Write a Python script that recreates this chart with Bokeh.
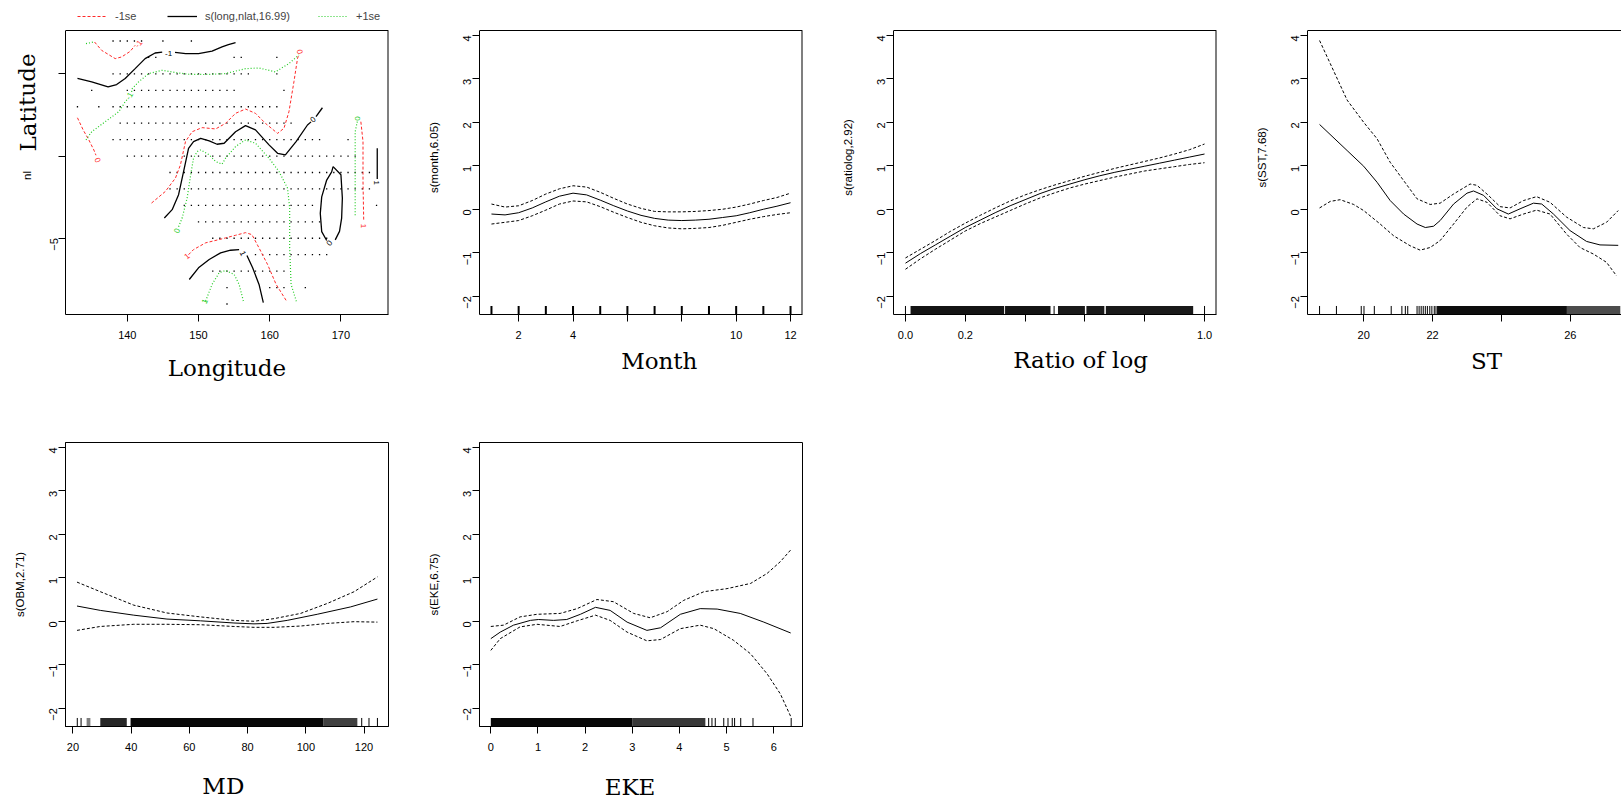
import math
from bokeh.plotting import figure
from bokeh.layouts import column, row
from bokeh.models import (FixedTicker, Range1d, Legend, LegendItem)
from bokeh.core.properties import value
from bokeh.embed import file_html
from bokeh.resources import INLINE

SANS = "Liberation Sans"
SERIF = "DejaVu Serif"
RED = "#FF2A2A"
GREEN = "#22CC22"
NBSP = "\u00a0"

# ---------------- data: panel 1 (contours of s(long,nlat,16.99)) ----------------
station_rows = [
    (7, [(138, 142), (145, 145), (149, 149)]),
    (6, [(143, 144), (155, 156), (161, 161)]),
    (5, [(138, 157), (161, 161)]),
    (4, [(135, 135), (140, 155), (162, 162)]),
    (3, [(133, 133), (136, 136), (138, 161)]),
    (2, [(139, 163)]),
    (1, [(138, 167), (171, 171)]),
    (0, [(140, 172)]),
    (-1, [(146, 174)]),
    (-2, [(146, 174)]),
    (-3, [(148, 166), (175, 175)]),
    (-4, [(150, 167)]),
    (-5, [(152, 168)]),
    (-6, [(158, 168)]),
    (-7, [(152, 162)]),
    (-8, [(154, 154), (160, 162), (165, 165)]),
    (-9, [(154, 154)]),
]

fit_lon = [
    [133.0, 135.0, 137.3, 138.5, 139.7, 141.1, 142.5, 143.9, 144.9],
    [146.7, 148.2, 150.0, 151.9, 153.3, 154.2, 155.2],
    [145.2, 146.3, 147.2, 147.9, 148.6, 149.3, 150.3, 151.5, 152.6, 153.6, 154.5, 155.2, 156.6, 158.0, 159.9, 161.1, 162.2, 163.7, 165.3, 165.8],
    [166.5, 167.4],
    [168.9, 170.0, 170.2, 170.1, 169.8, 169.2],
    [168.0, 167.3, 167.1, 167.3, 168.0, 168.7, 168.9],
    [175.1, 175.1],
    [148.7, 150.0, 151.5, 153.1, 154.5, 155.7],
    [156.8, 157.6, 158.5, 159.1],
]
fit_lat = [
    [4.72, 4.52, 4.21, 4.35, 4.72, 5.32, 5.93, 6.27, 6.33],
    [6.31, 6.23, 6.23, 6.39, 6.64, 6.78, 6.90],
    [-3.77, -3.26, -2.35, -0.94, 0.47, 0.88, 1.08, 0.92, 0.72, 0.78, 1.18, 1.48, 1.85, 1.59, 0.68, 0.17, 0.07, 0.88, 1.89, 2.08],
    [2.40, 2.94],
    [-0.64, -1.14, -2.56, -3.77, -4.58, -5.10],
    [-5.14, -4.60, -3.49, -2.48, -1.46, -0.96, -0.64],
    [0.47, -1.40],
    [-7.51, -6.80, -6.29, -5.89, -5.73, -5.69],
    [-6.05, -6.80, -7.81, -8.92],
]
lo_lon = [
    [135.4, 136.4, 138.3, 139.2, 140.4, 141.1],
    [143.4, 145.35, 146.76, 147.46, 148.17, 149.1, 150.5, 152.4, 153.8, 155.2, 156.6, 158.0, 159.4, 161.1, 162.0, 162.7, 163.4, 163.9, 164.1],
    [172.8, 173.1, 173.1, 173.2],
    [133.0, 133.8, 134.6, 135.3, 135.6],
    [148.6, 149.3, 151.0, 152.9, 153.8, 155.2, 156.6, 157.5, 158.5, 159.7, 160.9, 162.3],
]
lo_lat = [
    [6.94, 6.43, 5.93, 6.03, 6.37, 6.74],
    [-2.86, -2.15, -1.34, -0.54, 0.88, 1.48, 1.73, 1.65, 1.99, 2.60, 2.86, 2.60, 1.99, 1.38, 1.69, 2.70, 4.52, 5.93, 6.20],
    [2.09, 0.88, -1.54, -3.95],
    [2.33, 1.59, 0.98, 0.37, 0.05],
    [-6.00, -5.69, -5.28, -5.08, -4.98, -4.82, -4.66, -4.78, -5.59, -6.60, -7.81, -8.78],
]
hi_lon = [
    [134.2, 135.3],
    [134.2, 135.0, 136.9, 138.8, 139.7, 140.0],
    [140.6, 140.7, 141.6, 143.0, 144.9, 146.8, 148.6, 151.0, 153.8, 156.6, 158.5, 160.8, 162.7, 164.1],
    [147.2, 147.7, 148.4, 148.9, 149.3, 149.8, 150.3, 151.5, 152.4, 153.3, 153.8, 155.2, 156.6, 158.0, 159.9, 161.3, 162.5, 162.8, 162.8, 163.0, 163.8],
    [172.3, 172.0, 172.0, 172.0],
    [151.0, 151.9, 152.9, 153.8, 155.0, 155.7, 156.3],
]
hi_lat = [
    [6.84, 6.94],
    [0.98, 1.48, 2.09, 2.70, 3.30, 3.45],
    [3.90, 4.11, 4.52, 5.02, 5.22, 5.08, 4.98, 4.96, 5.02, 5.32, 5.36, 5.12, 5.63, 6.15],
    [-4.30, -3.77, -2.56, -1.14, -0.13, 0.27, 0.37, 0.07, -0.33, -0.49, -0.13, 0.58, 0.98, 0.78, -0.13, -0.94, -1.95, -3.16, -5.59, -7.81, -8.92],
    [2.10, 1.48, -0.54, -3.67],
    [-8.82, -7.81, -7.10, -6.96, -7.20, -7.81, -8.82],
]
clab_text = ["-1", "0", "0", "1", "1", "-1", "0", "0", "1", "1", "0", "0", "-1", "1"]
clab_lon = [145.8, 166.1, 168.4, 175.0, 156.2, 141.6, 164.2, 135.8, 173.2, 148.4, 147.0, 172.3, 140.3, 150.9]
clab_lat = [6.25, 2.22, -5.30, -1.62, -5.92, 6.82, 6.35, -0.25, -4.25, -6.10, -4.55, 2.28, 3.65, -8.85]
clab_angle = [0, 40, 50, -90, -65, 50, -80, -65, -90, 40, 70, 90, 60, 65]
clab_col = ["black", "black", "black", "black", "black", RED, RED, RED, RED, RED, GREEN, GREEN, GREEN, GREEN]

# ---------------- data: Month ----------------
month_x = [1, 1.5, 2, 2.5, 3, 3.5, 4, 4.5, 5, 5.5, 6, 6.5, 7, 7.5, 8, 8.5, 9, 9.5, 10, 10.5, 11, 11.5, 12]
month_fit = [-0.11, -0.13, -0.08, 0.03, 0.17, 0.30, 0.37, 0.33, 0.21, 0.08, -0.04, -0.14, -0.21, -0.25, -0.26, -0.25, -0.23, -0.19, -0.15, -0.08, 0.0, 0.07, 0.15]
month_hi = [0.12, 0.05, 0.08, 0.20, 0.35, 0.47, 0.54, 0.51, 0.39, 0.25, 0.12, 0.02, -0.05, -0.06, -0.06, -0.05, -0.03, 0.0, 0.05, 0.12, 0.20, 0.27, 0.37]
month_lo = [-0.34, -0.30, -0.26, -0.15, -0.02, 0.12, 0.19, 0.17, 0.06, -0.07, -0.19, -0.30, -0.38, -0.43, -0.45, -0.44, -0.42, -0.37, -0.30, -0.23, -0.17, -0.12, -0.08]
month_rug = [1, 2, 3, 4, 5, 6, 7, 8, 9, 10, 11, 12]

# ---------------- data: Ratio of log ----------------
ratio_x = [0.0, 0.05, 0.1, 0.15, 0.2, 0.25, 0.3, 0.35, 0.4, 0.45, 0.5, 0.55, 0.6, 0.65, 0.7, 0.75, 0.8, 0.85, 0.9, 0.95, 1.0]
ratio_fit = [-1.24, -1.02, -0.82, -0.62, -0.42, -0.25, -0.08, 0.08, 0.22, 0.36, 0.48, 0.58, 0.68, 0.77, 0.85, 0.92, 0.99, 1.06, 1.13, 1.20, 1.27]
ratio_hi = [-1.12, -0.92, -0.72, -0.51, -0.32, -0.14, 0.03, 0.19, 0.33, 0.45, 0.56, 0.66, 0.76, 0.85, 0.94, 1.02, 1.10, 1.18, 1.27, 1.37, 1.50]
ratio_lo = [-1.38, -1.14, -0.92, -0.71, -0.50, -0.33, -0.18, -0.03, 0.12, 0.26, 0.38, 0.49, 0.58, 0.66, 0.74, 0.81, 0.88, 0.93, 0.98, 1.03, 1.07]
ratio_rug = [0.0, 0.497, 1.0]
ratio_band_lo = [0.017, 0.333, 0.51, 0.605, 0.67]
ratio_band_hi = [0.330, 0.485, 0.60, 0.665, 0.962]
ratio_band_alpha = [0.92, 0.92, 0.9, 0.9, 0.9]

# ---------------- data: SST ----------------
sst_fit_x = [18.72, 19.52, 20.0, 20.39, 20.77, 21.16, 21.55, 21.79, 22.03, 22.22, 22.61, 23.0, 23.19, 23.48, 23.87, 24.2, 24.54, 24.93, 25.17, 25.51, 25.99, 26.47, 26.86, 27.39]
sst_fit = [1.95, 1.35, 0.99, 0.62, 0.20, -0.11, -0.34, -0.42, -0.39, -0.26, 0.12, 0.37, 0.42, 0.32, 0.01, -0.11, 0.01, 0.14, 0.12, -0.11, -0.49, -0.74, -0.82, -0.83]
sst_hi_x = [18.72, 19.03, 19.52, 20.0, 20.39, 20.77, 21.16, 21.55, 21.93, 22.22, 22.61, 23.09, 23.29, 23.58, 23.96, 24.25, 24.64, 25.02, 25.41, 25.89, 26.38, 26.67, 27.05, 27.39]
sst_hi = [3.88, 3.35, 2.51, 2.00, 1.62, 1.08, 0.66, 0.24, 0.11, 0.14, 0.35, 0.58, 0.55, 0.35, 0.06, 0.03, 0.20, 0.29, 0.16, -0.18, -0.42, -0.45, -0.30, -0.03]
sst_lo_x = [18.72, 19.03, 19.32, 19.71, 20.0, 20.48, 20.87, 21.35, 21.64, 21.93, 22.22, 22.61, 23.0, 23.29, 23.58, 23.96, 24.25, 24.64, 25.02, 25.41, 25.89, 26.28, 26.67, 27.05, 27.34]
sst_lo = [0.03, 0.18, 0.22, 0.11, -0.03, -0.34, -0.61, -0.84, -0.94, -0.88, -0.72, -0.34, 0.05, 0.24, 0.16, -0.15, -0.22, -0.11, -0.02, -0.11, -0.57, -0.88, -1.03, -1.22, -1.53]
sst_rug = [18.72, 19.21, 19.93, 20.01, 20.31, 20.80, 21.11, 21.21, 21.28, 21.55, 21.61, 21.67, 21.73, 21.79, 21.85, 21.92, 21.98, 22.05, 22.10]
sst_band_lo = [22.13, 25.90]
sst_band_hi = [25.90, 27.45]
sst_band_alpha = [0.95, 0.7]

# ---------------- data: MD (OBM) ----------------
md_x = [21.4, 29.4, 40.9, 52.3, 63.8, 75.3, 82.2, 86.7, 93.6, 103.9, 115.4, 124.6]
md_fit = [0.35, 0.25, 0.14, 0.05, 0.01, -0.04, -0.06, -0.05, 0.02, 0.16, 0.33, 0.51]
md_se_x = [21.4, 29.4, 40.9, 52.3, 63.8, 75.3, 82.2, 89.1, 98.2, 107.4, 116.6, 124.6]
md_hi = [0.90, 0.68, 0.37, 0.19, 0.10, 0.02, 0.0, 0.06, 0.18, 0.41, 0.68, 1.02]
md_lo = [-0.21, -0.12, -0.07, -0.07, -0.08, -0.12, -0.14, -0.14, -0.11, -0.05, -0.01, -0.02]
md_rug = [21.5, 22.8, 119.2, 121.7, 124.6]
md_band_lo = [24.7, 29.4, 39.8, 106.0]
md_band_hi = [26.0, 38.5, 106.0, 117.7]
md_band_alpha = [0.5, 0.85, 0.97, 0.75]

# ---------------- data: EKE ----------------
eke_fit_x = [0.0, 0.2, 0.48, 0.84, 1.01, 1.33, 1.61, 1.9, 2.22, 2.53, 2.89, 3.31, 3.6, 4.02, 4.44, 4.8, 5.29, 5.79, 6.36]
eke_fit = [-0.40, -0.25, -0.09, 0.02, 0.04, 0.02, 0.04, 0.16, 0.32, 0.25, -0.02, -0.21, -0.15, 0.16, 0.29, 0.28, 0.18, -0.02, -0.27]
eke_hi_x = [0.0, 0.27, 0.62, 0.98, 1.47, 1.83, 2.25, 2.6, 3.03, 3.38, 3.74, 4.09, 4.52, 5.01, 5.51, 5.86, 6.14, 6.36]
eke_hi = [-0.12, -0.09, 0.10, 0.16, 0.18, 0.29, 0.50, 0.45, 0.18, 0.08, 0.22, 0.48, 0.68, 0.75, 0.87, 1.10, 1.37, 1.64]
eke_lo_x = [0.0, 0.2, 0.62, 0.98, 1.47, 1.83, 2.22, 2.53, 2.89, 3.31, 3.6, 4.02, 4.44, 4.73, 5.15, 5.51, 5.86, 6.14, 6.36]
eke_lo = [-0.67, -0.40, -0.13, -0.07, -0.12, 0.01, 0.14, 0.02, -0.25, -0.45, -0.42, -0.17, -0.09, -0.17, -0.44, -0.75, -1.21, -1.67, -2.19]
eke_rug = [4.62, 4.69, 4.76, 4.94, 5.03, 5.12, 5.17, 5.30, 5.56, 6.37]
eke_band_lo = [0.0, 3.0]
eke_band_hi = [3.0, 4.55]
eke_band_alpha = [0.97, 0.78]

y_ticks = [-2, -1, 0, 1, 2, 3, 4]
Y_RANGE = (-2.42, 4.11)
FRAME_H = 284


def make_fig(width, height, left, right, top, bottom, xr, yr, xticks, yticks,
             xoverrides=None, yoverrides=None, ylabel="", xlabel="", xlabel_standoff=5,
             ext_top=0, right_edge=True):
    # ext_top: the data frame is extended upwards by this many pixels (box drawn by glyphs)
    y_end = yr[0] + (yr[1] - yr[0]) * (FRAME_H + ext_top) / FRAME_H
    p = figure(width=width, height=height, x_range=Range1d(*xr), y_range=Range1d(yr[0], y_end),
               output_backend="svg", toolbar_location=None,
               min_border_left=left, min_border_right=right,
               min_border_top=top, min_border_bottom=bottom)
    p.xgrid.visible = False
    p.ygrid.visible = False
    p.background_fill_color = "white"
    p.border_fill_color = "white"
    if ext_top:
        p.outline_line_color = None
        p.yaxis.bounds = (yr[0], yr[1])
        p.segment(x0=[xr[0]], y0=[yr[1]], x1=[xr[1]], y1=[yr[1]], line_color="black", line_width=1)
        if right_edge:
            p.segment(x0=[xr[1]], y0=[yr[0]], x1=[xr[1]], y1=[yr[1]], line_color="black", line_width=2)
    else:
        p.outline_line_color = "black"
        p.outline_line_width = 1
        p.outline_line_alpha = 1
    p.xaxis.ticker = FixedTicker(ticks=xticks)
    p.yaxis.ticker = FixedTicker(ticks=yticks)
    if xoverrides:
        p.xaxis.major_label_overrides = xoverrides
    if yoverrides:
        p.yaxis.major_label_overrides = yoverrides
    for ax in (p.xaxis[0], p.yaxis[0]):
        ax.major_tick_in = 0
        ax.major_tick_out = 7
        ax.minor_tick_line_color = None
        ax.axis_line_color = "black"
        ax.major_tick_line_color = "black"
        ax.major_label_text_font = SANS
        ax.major_label_text_font_size = "11px"
        ax.major_label_text_color = "black"
    p.xaxis.major_label_standoff = 9
    p.yaxis.major_label_standoff = 5
    p.yaxis.major_label_orientation = math.pi / 2
    if ylabel:
        p.yaxis.axis_label = ylabel
        p.yaxis.axis_label_text_font = SANS
        p.yaxis.axis_label_text_font_size = "11.5px"
        p.yaxis.axis_label_text_font_style = "normal"
        p.yaxis.axis_label_text_color = "black"
        p.yaxis.axis_label_standoff = 17
    if xlabel:
        p.xaxis.axis_label = xlabel
        p.xaxis.axis_label_text_font = SERIF
        p.xaxis.axis_label_text_font_size = "23px"
        p.xaxis.axis_label_text_font_style = "normal"
        p.xaxis.axis_label_text_color = "black"
        p.xaxis.axis_label_standoff = xlabel_standoff
    return p


def add_curves(p, fx, f, hx, h, lx, l):
    p.line(fx, f, line_color="black", line_width=1)
    p.line(hx, h, line_color="black", line_width=1, line_dash="3 2")
    p.line(lx, l, line_color="black", line_width=1, line_dash="3 2")


def add_rug(p, xs, yr, width=1, band_lo=None, band_hi=None, band_alpha=None):
    y0 = yr[0]
    y1 = yr[0] + 0.03 * (yr[1] - yr[0])
    p.segment(x0=xs, y0=[y0] * len(xs), x1=xs, y1=[y1] * len(xs), line_color="black", line_width=width)
    if band_lo:
        p.quad(left=band_lo, right=band_hi, bottom=[y0] * len(band_lo), top=[y1] * len(band_lo),
               fill_color="black", fill_alpha=band_alpha, line_color=None)


# ---------------- left strip holding the big "Latitude" title and "nl" ----------------
strip = figure(width=40, height=410, x_range=Range1d(0, 40), y_range=Range1d(0, 314),
               output_backend="svg", toolbar_location=None, x_axis_type=None, y_axis_type=None,
               min_border_left=0, min_border_right=0, min_border_top=0, min_border_bottom=96)
strip.outline_line_color = None
strip.background_fill_color = "white"
strip.border_fill_color = "white"
strip.text(x=[27], y=[212], text=["Latitude"], angle=[math.pi / 2], text_font=value(SERIF),
           text_font_size="23px", text_color="black", text_align="center", text_baseline="alphabetic")
strip.text(x=[26], y=[139], text=["nl"], angle=[math.pi / 2], text_font=value(SANS),
           text_font_size="11.5px", text_color="black", text_align="center", text_baseline="alphabetic")

# ---------------- panel 1 ----------------
p1 = make_fig(374, 410, 25, 26, 0, 96, (131.32, 176.68), (-9.64, 7.64),
              [140, 150, 160, 170], [-5, 0, 5], yoverrides={0: "", 5: ""},
              xlabel="Longitude", xlabel_standoff=13, ext_top=30)
p1.yaxis.major_label_standoff = 4
dot_lon, dot_lat = [], []
for lat, segs in station_rows:
    for a, b in segs:
        for lon in range(a, b + 1):
            dot_lon.append(lon)
            dot_lat.append(lat)
p1.scatter(dot_lon, dot_lat, marker="square", size=1.3, fill_color="black", line_color=None)
r_lo = p1.multi_line(lo_lon, lo_lat, line_color=RED, line_width=1, line_dash="3 2")
r_fit = p1.multi_line(fit_lon, fit_lat, line_color="black", line_width=1.3)
r_hi = p1.multi_line(hi_lon, hi_lat, line_color=GREEN, line_width=1.2, line_dash="1 2")
for t, x, y, a, c in zip(clab_text, clab_lon, clab_lat, clab_angle, clab_col):
    p1.text(x=[x], y=[y], text=[t], angle=[math.radians(a)], text_font=value(SANS),
            text_font_size="8px", text_color=c, text_align="center", text_baseline="middle")
legend = Legend(items=[LegendItem(label="-1se", renderers=[r_lo]),
                       LegendItem(label="s(long,nlat,16.99)", renderers=[r_fit]),
                       LegendItem(label="+1se", renderers=[r_hi])],
                orientation="horizontal", location=(12, 292), glyph_width=30, glyph_height=10,
                label_standoff=8, spacing=28, padding=0, margin=0, label_width=24,
                label_text_font=SANS, label_text_font_size="11px", label_height=10,
                border_line_color=None, background_fill_alpha=0)
p1.add_layout(legend)

# ---------------- panel 2 ----------------
p2 = make_fig(414, 410, 65, 26, 0, 96, (0.56, 12.44), Y_RANGE, [2, 4, 6, 8, 10, 12], y_ticks,
              xoverrides={6: "", 8: ""}, ylabel="s(month,6.05)", xlabel=NBSP * 5 + "Month",
              xlabel_standoff=6, ext_top=30)
add_curves(p2, month_x, month_fit, month_x, month_hi, month_x, month_lo)
add_rug(p2, month_rug, Y_RANGE, width=2)

# ---------------- panel 3 ----------------
p3 = make_fig(414, 410, 65, 26, 0, 96, (-0.04, 1.04), Y_RANGE, [0.0, 0.2, 0.4, 0.6, 0.8, 1.0], y_ticks,
              ylabel="s(ratiolog,2.92)", xlabel=NBSP * 7 + "Ratio of log", xlabel_standoff=5, ext_top=30)
p3.xaxis.major_label_overrides = {0: "0.0", 0.2: "0.2", 0.4: "", 0.6: "", 0.8: "", 1: "1.0"}
add_curves(p3, ratio_x, ratio_fit, ratio_x, ratio_hi, ratio_x, ratio_lo)
add_rug(p3, ratio_rug, Y_RANGE, 1, ratio_band_lo, ratio_band_hi, ratio_band_alpha)

# ---------------- panel 4 ----------------
p4 = make_fig(379, 410, 65, 0, 0, 96, (18.37, 27.485), Y_RANGE, [20, 22, 24, 26], y_ticks,
              xoverrides={24: ""}, ylabel="s(SST,7.68)", xlabel=NBSP * 6 + "ST", xlabel_standoff=6,
              ext_top=30, right_edge=False)
add_curves(p4, sst_fit_x, sst_fit, sst_hi_x, sst_hi, sst_lo_x, sst_lo)
add_rug(p4, sst_rug, Y_RANGE, 1, sst_band_lo, sst_band_hi, sst_band_alpha)

# ---------------- panel 5 ----------------
p5 = make_fig(414, 392, 65, 26, 32, 76, (17.45, 128.4), Y_RANGE, [20, 40, 60, 80, 100, 120], y_ticks,
              ylabel="s(OBM,2.71)", xlabel="MD" + NBSP, xlabel_standoff=19)
add_curves(p5, md_x, md_fit, md_se_x, md_hi, md_se_x, md_lo)
add_rug(p5, md_rug, Y_RANGE, 1, md_band_lo, md_band_hi, md_band_alpha)

# ---------------- panel 6 ----------------
p6 = make_fig(414, 392, 65, 26, 32, 76, (-0.24, 6.61), Y_RANGE, [0, 1, 2, 3, 4, 5, 6], y_ticks,
              ylabel="s(EKE,6.75)", xlabel="EKE" + NBSP * 3, xlabel_standoff=20)
add_curves(p6, eke_fit_x, eke_fit, eke_hi_x, eke_hi, eke_lo_x, eke_lo)
add_rug(p6, eke_rug, Y_RANGE, 1, eke_band_lo, eke_band_hi, eke_band_alpha)

layout = column(row(strip, p1, p2, p3, p4, spacing=0), row(p5, p6, spacing=0), spacing=0)
open("out.html", "w").write(file_html(layout, INLINE))
